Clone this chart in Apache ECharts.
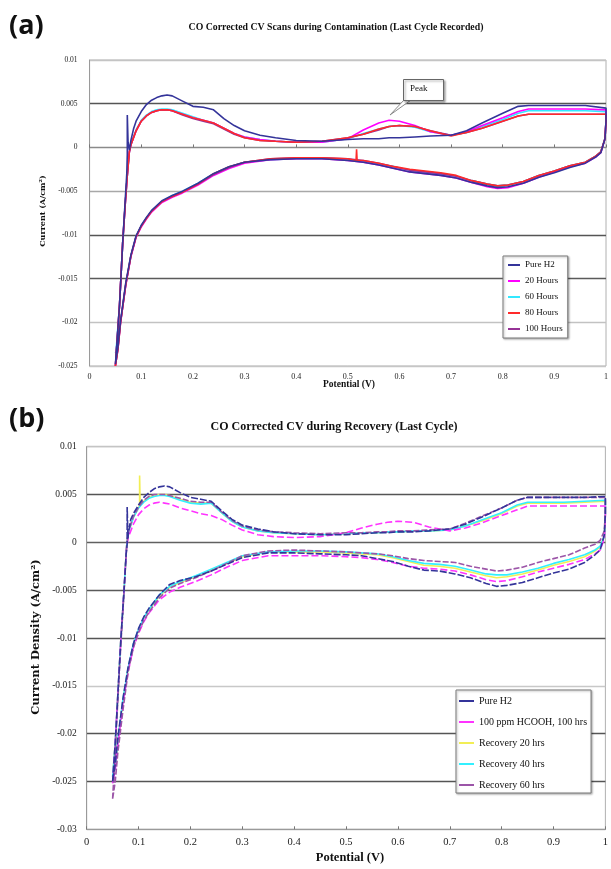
<!DOCTYPE html>
<html><head><meta charset="utf-8">
<script src="https://cdn.jsdelivr.net/npm/echarts@6/dist/echarts.min.js"></script>
<style>html,body{margin:0;padding:0;background:#fff}#c{width:611px;height:869px}</style>
</head><body><div id="c"></div>
<script>
// ---------- shared potential grids (V) ----------
const UP_X = [0.085,0.09,0.1,0.11,0.12,0.13,0.14,0.15,0.16,
  0.18,0.2,0.22,0.24,0.26,0.28,0.3,
  0.33,0.36,0.4,0.45,0.5,
  0.53,0.56,0.58,0.6,0.63,0.66,0.7,
  0.73,0.76,0.8,0.83,0.85,0.88,0.92,0.96,1.0];
const LOW_X = [1.0,0.998,0.99,0.98,0.96,0.93,0.9,0.87,0.84,0.81,
  0.79,0.77,0.74,0.71,0.68,0.65,0.62,0.59,0.56,0.53,
  0.5,0.45,0.4,0.35,0.3,0.27,0.24,0.21,0.18,0.16,
  0.14,0.12,0.11,0.1,0.09,0.08,0.07,0.06,0.055,0.05];
const X_TICKS = [0,0.1,0.2,0.3,0.4,0.5,0.6,0.7,0.8,0.9,1];
const A_Y_TICKS = [-0.025,-0.02,-0.015,-0.01,-0.005,0,0.005,0.01];
const B_Y_TICKS = [-0.03,-0.025,-0.02,-0.015,-0.01,-0.005,0,0.005,0.01];

// ---------- chart (a): contamination ----------
const A_NAMES = ['Pure H2','20 Hours','60 Hours','80 Hours','100 Hours'];
const aPureH2Rise = [[0.05,-0.0248],[0.058,-0.018],[0.064,-0.011],[0.069,-0.006],[0.072,-0.003],[0.073,-0.0008],[0.073,0.0037],[0.0745,0.0006],[0.077,-0.0003],[0.08,0.0008]];
const aPureH2Up = [0.0021,0.003,0.0041,0.0049,0.0054,0.0057,0.0059,0.006,0.0059,
  0.0053,0.0047,0.0046,0.0043,0.0033,0.0025,0.0019,
  0.0014,0.0011,0.0008,0.0007,0.0009,
  0.001,0.001,0.0011,0.0011,0.0012,0.0013,0.0014,
  0.0019,0.0028,0.0039,0.0047,0.0048,0.0048,0.0048,0.0048,0.0045];
const aPureH2Low = [0.003,0.001,-0.0006,-0.0011,-0.0018,-0.0023,-0.0029,-0.0034,-0.0041,-0.0045,
  -0.0046,-0.0044,-0.004,-0.0035,-0.0032,-0.003,-0.0028,-0.0024,-0.002,-0.0017,
  -0.0015,-0.0013,-0.0013,-0.0014,-0.0017,-0.0022,-0.003,-0.0041,-0.005,-0.0055,
  -0.0061,-0.0072,-0.008,-0.0089,-0.0101,-0.0123,-0.0155,-0.0198,-0.0228,-0.0248];

const a20Rise = [[0.05,-0.025],[0.058,-0.018],[0.064,-0.011],[0.069,-0.0065],[0.073,-0.0032],[0.077,-0.0005],[0.08,0.0003]];
const a20Up = [0.0011,0.0019,0.003,0.0036,0.004,0.0042,0.0043,0.0043,0.0042,
  0.0038,0.0034,0.0031,0.0028,0.0022,0.0016,0.0012,
  0.0009,0.0007,0.0006,0.0006,0.001,
  0.002,0.0028,0.0031,0.003,0.0025,0.0018,0.0014,
  0.0018,0.0025,0.0034,0.0041,0.0044,0.0044,0.0044,0.0044,0.0043];
const a20Low = [0.003,0.001,-0.0006,-0.0011,-0.0018,-0.0022,-0.0028,-0.0034,-0.0041,-0.0046,
  -0.0047,-0.0045,-0.004,-0.0035,-0.0032,-0.003,-0.0028,-0.0024,-0.002,-0.0017,
  -0.0015,-0.0013,-0.0013,-0.0014,-0.0018,-0.0024,-0.0032,-0.0043,-0.0052,-0.0057,
  -0.0063,-0.0074,-0.0082,-0.0091,-0.0103,-0.0125,-0.0158,-0.02,-0.023,-0.025];

const a60Rise = [[0.051,-0.0235],[0.058,-0.018],[0.064,-0.011],[0.069,-0.0065],[0.073,-0.0032],[0.077,-0.0005],[0.08,0.0003]];
const a60Up = [0.0012,0.002,0.0031,0.0037,0.0041,0.0043,0.0044,0.0044,0.0043,
  0.0039,0.0035,0.0031,0.0028,0.0022,0.0016,0.0012,
  0.0009,0.0007,0.0006,0.0006,0.001,
  0.0016,0.0021,0.0024,0.0025,0.0023,0.0018,0.0014,
  0.0017,0.0024,0.0032,0.0039,0.0042,0.0042,0.0042,0.0042,0.0041];
const a60Low = [0.003,0.001,-0.0005,-0.001,-0.0017,-0.0021,-0.0027,-0.0032,-0.0039,-0.0043,
  -0.0044,-0.0042,-0.0038,-0.0033,-0.003,-0.0028,-0.0026,-0.0022,-0.0019,-0.0016,
  -0.0014,-0.0013,-0.0013,-0.0014,-0.0017,-0.0022,-0.003,-0.0041,-0.005,-0.0055,
  -0.0062,-0.0073,-0.0081,-0.009,-0.0102,-0.0124,-0.0157,-0.0199,-0.0225,-0.0235];

const a80Rise = [[0.05,-0.025],[0.058,-0.018],[0.064,-0.011],[0.069,-0.0065],[0.073,-0.0032],[0.077,-0.0005],[0.08,0.0003]];
const a80Up = [0.0011,0.0019,0.003,0.0036,0.004,0.0042,0.0043,0.0043,0.0042,
  0.0038,0.0034,0.0031,0.0028,0.0022,0.0016,0.0011,
  0.0008,0.0007,0.0006,0.0007,0.0011,
  0.0015,0.0021,0.0024,0.0025,0.0024,0.0019,0.0013,
  0.0017,0.0022,0.003,0.0036,0.0038,0.0038,0.0038,0.0038,0.0038];
const a80Low = [0.003,0.001,-0.0005,-0.001,-0.0017,-0.0021,-0.0027,-0.0032,-0.0039,-0.0043,
  -0.0044,-0.0042,-0.0038,-0.0032,-0.0029,-0.0027,-0.0025,-0.0022,-0.0018,-0.0015,
  -0.0013,-0.0012,-0.0012,-0.0013,-0.0017,-0.0022,-0.003,-0.0042,-0.0051,-0.0056,
  -0.0062,-0.0073,-0.0081,-0.009,-0.0102,-0.0124,-0.0157,-0.02,-0.023,-0.025];
const a80Spike = [[0.518,-0.0015],[0.517,-0.0002],[0.516,-0.0015]];

const a100Rise = [[0.05,-0.025],[0.058,-0.018],[0.064,-0.011],[0.069,-0.0065],[0.073,-0.0032],[0.077,-0.0005],[0.08,0.0003]];
const a100Up = [0.0011,0.0019,0.003,0.0036,0.004,0.0042,0.0043,0.0043,0.0042,
  0.0037,0.0033,0.003,0.0027,0.0021,0.0015,0.0011,
  0.0008,0.0007,0.0006,0.0007,0.0011,
  0.0015,0.002,0.0024,0.0025,0.0024,0.0019,0.0014,
  0.0017,0.0022,0.003,0.0036,0.0038,0.0038,0.0038,0.0038,0.0038];
const a100Low = [0.003,0.001,-0.0005,-0.001,-0.0017,-0.0021,-0.0027,-0.0032,-0.0039,-0.0043,
  -0.0044,-0.0042,-0.0038,-0.0033,-0.003,-0.0028,-0.0026,-0.0022,-0.0018,-0.0015,
  -0.0013,-0.0012,-0.0012,-0.0013,-0.0017,-0.0023,-0.0031,-0.0042,-0.0051,-0.0056,
  -0.0062,-0.0073,-0.0081,-0.009,-0.0102,-0.0124,-0.0157,-0.02,-0.023,-0.025];

// ---------- chart (b): recovery ----------
const B_NAMES = ['Pure H2','100 ppm HCOOH, 100 hrs','Recovery 20 hrs','Recovery 40 hrs','Recovery 60 hrs'];
const bPureH2Rise = [[0.05,-0.025],[0.055,-0.021],[0.06,-0.016],[0.066,-0.01],[0.072,-0.005],[0.076,-0.0012],[0.078,-0.0002],[0.078,0.0037],[0.0795,0.0004],[0.081,0.0012]];
const bPureH2Up = [0.0024,0.003,0.0039,0.0047,0.0052,0.0056,0.0058,0.0059,0.0058,
  0.0052,0.0047,0.0045,0.0043,0.0033,0.0024,0.0018,
  0.0014,0.0011,0.0009,0.0008,0.0008,
  0.0009,0.001,0.001,0.0011,0.0011,0.0012,0.0014,
  0.0019,0.0026,0.0036,0.0044,0.0047,0.0047,0.0047,0.0047,0.0048];
const bPureH2Low = [0.003,0.0008,-0.0008,-0.0013,-0.0021,-0.0028,-0.0032,-0.0037,-0.0042,-0.0045,
  -0.0046,-0.0043,-0.0037,-0.0033,-0.003,-0.0029,-0.0025,-0.002,-0.0017,-0.0014,
  -0.0013,-0.0012,-0.0011,-0.0011,-0.0016,-0.0023,-0.003,-0.0036,-0.004,-0.0044,
  -0.0055,-0.0069,-0.0078,-0.009,-0.0106,-0.013,-0.0163,-0.0205,-0.0232,-0.025];

const bHcoohRise = [[0.05,-0.0252],[0.055,-0.021],[0.06,-0.016],[0.066,-0.01],[0.072,-0.005],[0.077,-0.0005],[0.08,0.0005]];
const bHcoohUp = [0.0012,0.0019,0.0029,0.0035,0.0039,0.0041,0.0042,0.0041,0.004,
  0.0036,0.0033,0.003,0.0028,0.0024,0.0018,0.0013,
  0.0008,0.0006,0.0005,0.0006,0.001,
  0.0015,0.0019,0.0021,0.0022,0.0021,0.0016,0.0012,
  0.0015,0.002,0.0028,0.0034,0.0038,0.0038,0.0038,0.0038,0.0038];
const bHcoohLow = [0.0025,0.0004,-0.0008,-0.0012,-0.0018,-0.0023,-0.0027,-0.0031,-0.0036,-0.004,
  -0.0041,-0.0039,-0.0034,-0.003,-0.0028,-0.0027,-0.0025,-0.0021,-0.0018,-0.0016,
  -0.0015,-0.0014,-0.0014,-0.0014,-0.0019,-0.0026,-0.0034,-0.0041,-0.0047,-0.0052,
  -0.006,-0.0074,-0.0083,-0.0095,-0.011,-0.0135,-0.0168,-0.0212,-0.0238,-0.0252];

const bRec20Rise = [[0.05,-0.0245],[0.055,-0.021],[0.06,-0.016],[0.066,-0.01],[0.072,-0.005],[0.077,-0.0004],[0.08,0.0009]];
const bRec20Up = [0.0018,0.0026,0.0036,0.0043,0.0047,0.0049,0.005,0.005,0.0049,
  0.0045,0.0042,0.0041,0.0041,0.0031,0.0022,0.0016,
  0.0012,0.001,0.0009,0.0008,0.0009,
  0.001,0.001,0.0011,0.0011,0.0012,0.0012,0.0013,
  0.0017,0.0022,0.003,0.0038,0.0041,0.0041,0.0041,0.0042,0.0043];
const bRec20Low = [0.003,0.0006,-0.0005,-0.0009,-0.0015,-0.002,-0.0024,-0.0029,-0.0033,-0.0036,
  -0.0037,-0.0035,-0.0031,-0.0027,-0.0025,-0.0024,-0.002,-0.0016,-0.0013,-0.0012,
  -0.0011,-0.001,-0.001,-0.001,-0.0015,-0.0022,-0.0029,-0.0036,-0.0042,-0.0047,
  -0.0056,-0.0071,-0.008,-0.0092,-0.0107,-0.0132,-0.0165,-0.0208,-0.0235,-0.0245];
const bRec20Spike = [[0.102,0.0039],[0.102,0.007],[0.103,0.0041]];

const bRec40Rise = [[0.05,-0.0245],[0.055,-0.021],[0.06,-0.016],[0.066,-0.01],[0.072,-0.005],[0.077,-0.0004],[0.08,0.0009]];
const bRec40Up = [0.0018,0.0026,0.0036,0.0042,0.0046,0.0048,0.0049,0.0049,0.0048,
  0.0044,0.0041,0.004,0.0041,0.0031,0.0022,0.0016,
  0.0012,0.001,0.0009,0.0008,0.0009,
  0.001,0.001,0.0011,0.0011,0.0012,0.0012,0.0013,
  0.0017,0.0023,0.0031,0.0039,0.0042,0.0042,0.0042,0.0043,0.0044];
const bRec40Low = [0.003,0.0006,-0.0004,-0.0008,-0.0013,-0.0018,-0.0022,-0.0027,-0.0031,-0.0034,
  -0.0034,-0.0033,-0.0029,-0.0025,-0.0023,-0.0022,-0.0019,-0.0015,-0.0012,-0.0011,
  -0.001,-0.0009,-0.0009,-0.001,-0.0014,-0.0021,-0.0028,-0.0035,-0.0041,-0.0046,
  -0.0055,-0.007,-0.0079,-0.0091,-0.0106,-0.0131,-0.0164,-0.0207,-0.0234,-0.0245];

const bRec60Rise = [[0.05,-0.0268],[0.055,-0.022],[0.06,-0.0165],[0.066,-0.0105],[0.072,-0.0052],[0.077,-0.0004],[0.08,0.001]];
const bRec60Up = [0.0019,0.0027,0.0037,0.0044,0.0048,0.005,0.005,0.005,0.0049,
  0.0046,0.0043,0.0042,0.0042,0.0032,0.0023,0.0017,
  0.0013,0.0011,0.001,0.0009,0.001,
  0.001,0.0011,0.0011,0.0012,0.0012,0.0013,0.0014,
  0.002,0.0027,0.0036,0.0044,0.0047,0.0047,0.0047,0.0047,0.0047];
const bRec60Low = [0.0035,0.0012,0.0002,-0.0002,-0.0006,-0.0013,-0.0017,-0.0021,-0.0026,-0.0029,
  -0.003,-0.0028,-0.0025,-0.0021,-0.002,-0.0019,-0.0017,-0.0014,-0.0012,-0.0011,
  -0.001,-0.0009,-0.0008,-0.0009,-0.0014,-0.0022,-0.003,-0.0037,-0.0043,-0.0048,
  -0.0058,-0.0073,-0.0082,-0.0094,-0.011,-0.0135,-0.0175,-0.022,-0.025,-0.0268];

// ---------- styles (kept apart from data) ----------
const A_COLORS = ['#34349a','#ff00ff','#33e8ff','#ff2a2a','#963296'];
const B_COLORS = ['#34349a','#ff33ff','#f2ee55','#33f0ff','#9c55a8'];
const B_DASH = [[7,2],[7,3],'solid','solid',[6,2]];
const SERIF = '"Liberation Serif", "Times New Roman", serif';

// ---------- build loops ----------
function pairs(xs, ys, label) {
  if (xs.length !== ys.length) throw new Error('length mismatch: ' + label + ' ' + ys.length + ' vs ' + xs.length);
  return xs.map((x, i) => [x, ys[i]]);
}
function insertPts(list, pts, ascending) {
  const x0 = pts[0][0];
  let idx = list.findIndex(p => ascending ? p[0] > x0 : p[0] < x0);
  if (idx < 0) idx = list.length;
  return list.slice(0, idx).concat(pts, list.slice(idx));
}
function loop(label, rise, up, low, upExtra, lowExtra) {
  let u = pairs(UP_X, up, label + ' up');
  let l = pairs(LOW_X, low, label + ' low');
  if (upExtra) u = insertPts(u, upExtra, true);
  if (lowExtra) l = insertPts(l, lowExtra, false);
  return rise.concat(u, l);
}
const aData = [
  loop('a pure', aPureH2Rise, aPureH2Up, aPureH2Low),
  loop('a 20', a20Rise, a20Up, a20Low),
  loop('a 60', a60Rise, a60Up, a60Low),
  loop('a 80', a80Rise, a80Up, a80Low, null, a80Spike),
  loop('a 100', a100Rise, a100Up, a100Low)
];
const bData = [
  loop('b pure', bPureH2Rise, bPureH2Up, bPureH2Low),
  loop('b hcooh', bHcoohRise, bHcoohUp, bHcoohLow),
  loop('b r20', bRec20Rise, bRec20Up, bRec20Low, bRec20Spike, null),
  loop('b r40', bRec40Rise, bRec40Up, bRec40Low),
  loop('b r60', bRec60Rise, bRec60Up, bRec60Low)
];
const A_Z = [7, 4, 3, 6, 5];
const B_Z = [7, 5, 3, 4, 6];

const series = [];
A_NAMES.forEach((n, i) => series.push({
  name: n, type: 'line', xAxisIndex: 0, yAxisIndex: 0, data: aData[i],
  symbol: 'none', z: A_Z[i], lineStyle: { color: A_COLORS[i], width: 1.6 },
  itemStyle: { color: A_COLORS[i] }
}));
B_NAMES.forEach((n, i) => series.push({
  name: n, type: 'line', xAxisIndex: 1, yAxisIndex: 1, data: bData[i],
  symbol: 'none', z: B_Z[i], lineStyle: { color: B_COLORS[i], width: 1.6, type: B_DASH[i] },
  itemStyle: { color: B_COLORS[i] }
}));

const fmtY = v => String(Number(v.toFixed(3)));
const fmtX = v => String(Number(v.toFixed(2)));

const gridA = [ '#c6c6c6','#c2c2c2','#5a5a5a','#555555','#a8a8a8','#8c8c8c','#555555','#c4c4c4' ];
const gridB = [ '#b8b8b8','#555555','#555555','#c8c8c8','#555555','#5a5a5a','#606060','#555555','#c4c4c4' ];

const option = {
  animation: false,
  backgroundColor: '#fff',
  grid: [
    { left: 89.6, top: 60, width: 522, height: 306, show: true, borderColor: '#b0b0b0', borderWidth: 1 },
    { left: 86.7, top: 446.7, width: 520, height: 382.6, show: true, borderColor: '#b0b0b0', borderWidth: 1 }
  ],
  xAxis: [
    { gridIndex: 0, type: 'value', min: X_TICKS[0], max: X_TICKS[X_TICKS.length - 1], interval: 0.1,
      axisLine: { onZero: true, lineStyle: { color: '#8a8a8a', width: 1 } },
      axisTick: { inside: true, length: 3, lineStyle: { color: '#777' } },
      axisLabel: { margin: 7, fontSize: 8, fontFamily: SERIF, color: '#222', formatter: fmtX, showMinLabel: true, showMaxLabel: true },
      splitLine: { show: false } },
    { gridIndex: 1, type: 'value', min: X_TICKS[0], max: X_TICKS[X_TICKS.length - 1], interval: 0.1,
      axisLine: { onZero: false, lineStyle: { color: '#9a9a9a', width: 1 } },
      axisTick: { inside: true, length: 3, lineStyle: { color: '#777' } },
      axisLabel: { margin: 7, fontSize: 10.5, fontFamily: SERIF, color: '#222', formatter: fmtX, showMinLabel: true, showMaxLabel: true },
      splitLine: { show: false } }
  ],
  yAxis: [
    { gridIndex: 0, type: 'value', min: A_Y_TICKS[0], max: A_Y_TICKS[A_Y_TICKS.length - 1], interval: 0.005,
      axisLine: { show: true, lineStyle: { color: '#9a9a9a' } }, axisTick: { show: false },
      axisLabel: { margin: 12, fontSize: 7.5, fontFamily: SERIF, color: '#222', formatter: fmtY, showMinLabel: true, showMaxLabel: true },
      splitLine: { show: true, lineStyle: { color: gridA, width: 1.3 } } },
    { gridIndex: 1, type: 'value', min: B_Y_TICKS[0], max: B_Y_TICKS[B_Y_TICKS.length - 1], interval: 0.005,
      axisLine: { show: true, lineStyle: { color: '#9a9a9a' } }, axisTick: { show: false },
      axisLabel: { margin: 10, fontSize: 9.5, fontFamily: SERIF, color: '#222', formatter: fmtY, showMinLabel: true, showMaxLabel: true },
      splitLine: { show: true, lineStyle: { color: gridB, width: 1.3 } } }
  ],
  legend: [
    { data: A_NAMES, orient: 'vertical', left: 503, top: 256, padding: [4, 5, 4, 5],
      icon: 'rect', itemWidth: 12, itemHeight: 2, itemGap: 6, backgroundColor: '#fff',
      borderColor: '#7a7a7a', borderWidth: 1, shadowBlur: 2, shadowColor: 'rgba(0,0,0,0.3)', shadowOffsetX: 1, shadowOffsetY: 1,
      selectedMode: false,
      textStyle: { fontSize: 9, fontFamily: SERIF, color: '#111', lineHeight: 10 } },
    { data: B_NAMES, orient: 'vertical', left: 456, top: 690, padding: [5, 4, 2, 3],
      icon: 'rect', itemWidth: 15, itemHeight: 2, itemGap: 9, backgroundColor: '#fff',
      borderColor: '#7a7a7a', borderWidth: 1, shadowBlur: 2, shadowColor: 'rgba(0,0,0,0.3)', shadowOffsetX: 1, shadowOffsetY: 1,
      selectedMode: false,
      textStyle: { fontSize: 10, fontFamily: SERIF, color: '#111', lineHeight: 12 } }
  ],
  graphic: [
    { type: 'text', x: 9, y: 26, z: 100, style: { text: '(a)', fontSize: 27, fontWeight: 'bold', fontFamily: '"Open Sans", sans-serif', fill: '#111', verticalAlign: 'middle' } },
    { type: 'text', x: 9, y: 419, z: 100, style: { text: '(b)', fontSize: 27, fontWeight: 'bold', fontFamily: '"Open Sans", sans-serif', fill: '#111', verticalAlign: 'middle' } },
    { type: 'text', x: 336, y: 27, z: 100, style: { text: 'CO Corrected CV Scans during Contamination (Last Cycle Recorded)', fontSize: 9.8, fontWeight: 'bold', fontFamily: SERIF, fill: '#111', align: 'center', verticalAlign: 'middle' } },
    { type: 'text', x: 334, y: 427, z: 100, style: { text: 'CO Corrected CV during Recovery (Last Cycle)', fontSize: 12, fontWeight: 'bold', fontFamily: SERIF, fill: '#111', align: 'center', verticalAlign: 'middle' } },
    { type: 'text', x: 349, y: 385, z: 100, style: { text: 'Potential (V)', fontSize: 9.5, fontWeight: 'bold', fontFamily: SERIF, fill: '#111', align: 'center', verticalAlign: 'middle' } },
    { type: 'text', x: 350, y: 858, z: 100, style: { text: 'Potential (V)', fontSize: 12.5, fontWeight: 'bold', fontFamily: SERIF, fill: '#111', align: 'center', verticalAlign: 'middle' } },
    { type: 'text', x: 43, y: 211, rotation: Math.PI / 2, z: 100, style: { text: 'Current (A/cm²)', fontSize: 8, fontWeight: 'bold', fontFamily: '"DejaVu Serif", serif', fill: '#111', align: 'center', verticalAlign: 'middle' } },
    { type: 'text', x: 36, y: 637, rotation: Math.PI / 2, z: 100, style: { text: 'Current Density (A/cm²)', fontSize: 11.5, fontWeight: 'bold', fontFamily: '"DejaVu Serif", serif', fill: '#111', align: 'center', verticalAlign: 'middle' } },
    { type: 'polygon', z: 99, shape: { points: [[404, 100], [411, 100], [390, 115]] }, style: { fill: '#fff', stroke: '#8a8a8a', lineWidth: 1 } },
    { type: 'rect', z: 100, shape: { x: 403.5, y: 79.5, width: 40, height: 21 }, style: { fill: '#fff', stroke: '#666', lineWidth: 1, shadowBlur: 2, shadowColor: 'rgba(0,0,0,0.35)', shadowOffsetX: 1.5, shadowOffsetY: 1.5 } },
    { type: 'text', x: 410, y: 89, z: 101, style: { text: 'Peak', fontSize: 9, fontFamily: SERIF, fill: '#111', verticalAlign: 'middle' } }
  ],
  series: series
};
const chart = echarts.init(document.getElementById('c'), null, { renderer: 'canvas', width: 611, height: 869 });
chart.setOption(option);
</script>
</body></html>
